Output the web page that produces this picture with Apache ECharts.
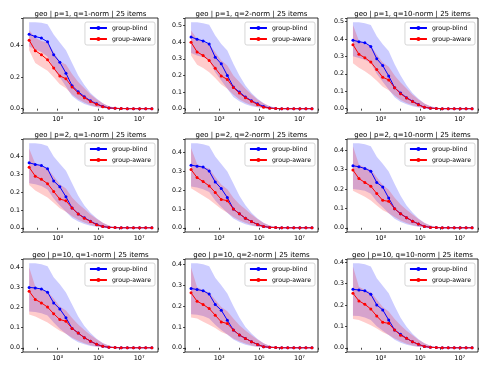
<!DOCTYPE html>
<html>
<head>
<meta charset="utf-8">
<script src="https://cdn.jsdelivr.net/npm/echarts@6/dist/echarts.min.js"></script>
<style>
html, body { margin: 0; padding: 0; background: #fff; }
#chart { width: 500px; height: 375px; }
</style>
</head>
<body>
<div id="chart"></div>
<script>
// x positions (doubling budget values)
const xs = [40, 80, 160, 320, 640, 1280, 2560, 5120, 10240, 20480, 40960, 81920, 163840, 327680, 655360, 1310720, 2621440, 5242880, 10485760, 20971520, 41943040];

// p=1, q=1-norm
const blindMean_p1q1 = [0.472,0.458,0.448,0.424,0.342,0.295,0.225,0.145,0.108,0.076,0.05,0.031,0.014,0.005,0.002,0.001,0,0,0,0,0];
const blindLo_p1q1   = [0.395,0.375,0.36,0.33,0.25,0.2,0.14,0.08,0.05,0.03,0.017,0.009,0.004,0.001,0,0,0,0,0,0,0];
const blindHi_p1q1   = [0.548,0.548,0.545,0.535,0.47,0.42,0.37,0.29,0.21,0.15,0.1,0.065,0.035,0.016,0.006,0.002,0.001,0,0,0,0];
const awareMean_p1q1 = [0.435,0.368,0.342,0.31,0.258,0.208,0.19,0.138,0.1,0.07,0.046,0.028,0.013,0.005,0.002,0.001,0,0,0,0,0];
const awareLo_p1q1   = [0.37,0.29,0.265,0.24,0.2,0.155,0.13,0.09,0.06,0.04,0.022,0.011,0.004,0.001,0,0,0,0,0,0,0];
const awareHi_p1q1   = [0.5,0.45,0.43,0.42,0.36,0.3,0.28,0.22,0.17,0.13,0.09,0.06,0.035,0.016,0.007,0.003,0.001,0,0,0,0];

// p=1, q=2-norm
const blindMean_p1q2 = [0.432,0.418,0.408,0.39,0.31,0.27,0.2,0.13,0.1,0.07,0.048,0.029,0.013,0.004,0.001,0,0,0,0,0,0];
const blindLo_p1q2   = [0.335,0.32,0.31,0.29,0.22,0.17,0.12,0.07,0.045,0.027,0.015,0.008,0.003,0.001,0,0,0,0,0,0,0];
const blindHi_p1q2   = [0.52,0.52,0.515,0.505,0.44,0.39,0.35,0.27,0.2,0.14,0.095,0.06,0.032,0.015,0.006,0.002,0.001,0,0,0,0];
const awareMean_p1q2 = [0.4,0.342,0.32,0.29,0.244,0.197,0.176,0.127,0.094,0.066,0.045,0.025,0.008,0.003,0.001,0,0,0,0,0,0];
const awareLo_p1q2   = [0.32,0.265,0.245,0.22,0.185,0.145,0.12,0.085,0.055,0.036,0.02,0.01,0.004,0.001,0,0,0,0,0,0,0];
const awareHi_p1q2   = [0.47,0.42,0.4,0.39,0.34,0.29,0.26,0.2,0.16,0.12,0.085,0.056,0.032,0.015,0.006,0.002,0.001,0,0,0,0];

// p=1, q=10-norm
const blindMean_p1q10 = [0.392,0.384,0.378,0.357,0.286,0.247,0.188,0.12,0.09,0.063,0.043,0.024,0.008,0.003,0.001,0,0,0,0,0,0];
const blindLo_p1q10   = [0.3,0.29,0.28,0.26,0.2,0.155,0.11,0.065,0.04,0.025,0.014,0.007,0.003,0.001,0,0,0,0,0,0,0];
const blindHi_p1q10   = [0.495,0.495,0.49,0.48,0.415,0.37,0.33,0.255,0.19,0.135,0.09,0.057,0.03,0.014,0.005,0.002,0.001,0,0,0,0];
const awareMean_p1q10 = [0.367,0.312,0.292,0.267,0.224,0.18,0.165,0.12,0.086,0.061,0.041,0.022,0.008,0.003,0.001,0,0,0,0,0,0];
const awareLo_p1q10   = [0.26,0.235,0.215,0.19,0.16,0.125,0.105,0.075,0.05,0.033,0.019,0.009,0.003,0.001,0,0,0,0,0,0,0];
const awareHi_p1q10   = [0.48,0.39,0.37,0.36,0.31,0.265,0.24,0.19,0.15,0.115,0.08,0.053,0.03,0.014,0.006,0.002,0.001,0,0,0,0];

// p=2, q=1-norm
const blindMean_p2q1 = [0.365,0.356,0.35,0.331,0.263,0.23,0.174,0.111,0.078,0.056,0.037,0.019,0.007,0.002,0.001,0,0,0,0,0,0];
const blindLo_p2q1   = [0.25,0.245,0.235,0.215,0.165,0.125,0.09,0.055,0.035,0.021,0.012,0.006,0.002,0.001,0,0,0,0,0,0,0];
const blindHi_p2q1   = [0.475,0.475,0.47,0.46,0.4,0.36,0.32,0.25,0.18,0.125,0.085,0.053,0.028,0.013,0.005,0.002,0.001,0,0,0,0];
const awareMean_p2q1 = [0.34,0.29,0.272,0.248,0.204,0.161,0.152,0.111,0.078,0.054,0.035,0.017,0.007,0.002,0.001,0,0,0,0,0,0];
const awareLo_p2q1   = [0.24,0.21,0.19,0.17,0.14,0.11,0.09,0.065,0.045,0.03,0.017,0.008,0.003,0.001,0,0,0,0,0,0,0];
const awareHi_p2q1   = [0.445,0.36,0.345,0.335,0.29,0.245,0.22,0.17,0.135,0.105,0.075,0.05,0.028,0.013,0.005,0.002,0.001,0,0,0,0];

// p=2, q=2-norm
const blindMean_p2q2 = [0.333,0.328,0.323,0.302,0.244,0.209,0.161,0.1,0.074,0.051,0.033,0.018,0.007,0.002,0.001,0,0,0,0,0,0];
const blindLo_p2q2   = [0.22,0.215,0.205,0.19,0.145,0.11,0.08,0.05,0.032,0.019,0.011,0.005,0.002,0.001,0,0,0,0,0,0,0];
const blindHi_p2q2   = [0.45,0.45,0.445,0.435,0.38,0.34,0.3,0.235,0.17,0.12,0.08,0.05,0.027,0.012,0.005,0.002,0.001,0,0,0,0];
const awareMean_p2q2 = [0.31,0.267,0.246,0.223,0.188,0.151,0.144,0.1,0.074,0.051,0.033,0.017,0.007,0.002,0.001,0,0,0,0,0,0];
const awareLo_p2q2   = [0.21,0.19,0.17,0.15,0.125,0.1,0.08,0.058,0.04,0.027,0.015,0.007,0.003,0.001,0,0,0,0,0,0,0];
const awareHi_p2q2   = [0.425,0.34,0.325,0.315,0.27,0.23,0.205,0.16,0.125,0.098,0.07,0.047,0.026,0.012,0.005,0.002,0.001,0,0,0,0];

// p=2, q=10-norm
const blindMean_p2q10 = [0.319,0.314,0.305,0.291,0.233,0.21,0.153,0.098,0.072,0.052,0.034,0.02,0.007,0.002,0.001,0,0,0,0,0,0];
const blindLo_p2q10   = [0.2,0.195,0.19,0.175,0.135,0.105,0.075,0.047,0.03,0.018,0.01,0.005,0.002,0.001,0,0,0,0,0,0,0];
const blindHi_p2q10   = [0.435,0.435,0.43,0.42,0.365,0.33,0.29,0.225,0.165,0.115,0.078,0.048,0.026,0.012,0.005,0.002,0.001,0,0,0,0];
const awareMean_p2q10 = [0.297,0.253,0.233,0.214,0.176,0.141,0.136,0.098,0.072,0.052,0.034,0.019,0.007,0.002,0.001,0,0,0,0,0,0];
const awareLo_p2q10   = [0.19,0.175,0.16,0.14,0.115,0.09,0.075,0.055,0.038,0.025,0.014,0.007,0.003,0.001,0,0,0,0,0,0,0];
const awareHi_p2q10   = [0.42,0.325,0.31,0.3,0.26,0.22,0.195,0.155,0.12,0.093,0.068,0.045,0.025,0.012,0.005,0.002,0.001,0,0,0,0];

// p=10, q=1-norm
const blindMean_p10q1 = [0.3,0.297,0.292,0.276,0.223,0.193,0.149,0.096,0.074,0.05,0.033,0.017,0.007,0.002,0.001,0,0,0,0,0,0];
const blindLo_p10q1   = [0.18,0.178,0.172,0.16,0.125,0.095,0.07,0.045,0.028,0.017,0.009,0.005,0.002,0.001,0,0,0,0,0,0,0];
const blindHi_p10q1   = [0.42,0.42,0.415,0.405,0.35,0.315,0.275,0.215,0.155,0.108,0.073,0.045,0.024,0.011,0.004,0.002,0.001,0,0,0,0];
const awareMean_p10q1 = [0.281,0.24,0.223,0.202,0.169,0.14,0.132,0.096,0.073,0.05,0.033,0.017,0.007,0.002,0.001,0,0,0,0,0,0];
const awareLo_p10q1   = [0.165,0.155,0.14,0.125,0.105,0.085,0.07,0.05,0.035,0.023,0.013,0.006,0.002,0.001,0,0,0,0,0,0,0];
const awareHi_p10q1   = [0.4,0.305,0.29,0.28,0.245,0.205,0.185,0.148,0.115,0.088,0.064,0.042,0.023,0.011,0.004,0.002,0.001,0,0,0,0];

// p=10, q=2-norm
const blindMean_p10q2 = [0.284,0.279,0.273,0.257,0.207,0.18,0.132,0.085,0.061,0.045,0.029,0.016,0.005,0.002,0.001,0,0,0,0,0,0];
const blindLo_p10q2   = [0.16,0.158,0.152,0.14,0.11,0.085,0.063,0.04,0.025,0.015,0.008,0.004,0.002,0.001,0,0,0,0,0,0,0];
const blindHi_p10q2   = [0.405,0.405,0.4,0.39,0.335,0.3,0.26,0.2,0.145,0.1,0.068,0.042,0.022,0.01,0.004,0.002,0.001,0,0,0,0];
const awareMean_p10q2 = [0.263,0.223,0.207,0.188,0.156,0.124,0.116,0.085,0.061,0.045,0.029,0.016,0.005,0.002,0.001,0,0,0,0,0,0];
const awareLo_p10q2   = [0.145,0.14,0.125,0.11,0.095,0.075,0.063,0.045,0.031,0.02,0.011,0.005,0.002,0.001,0,0,0,0,0,0,0];
const awareHi_p10q2   = [0.385,0.29,0.275,0.265,0.23,0.195,0.175,0.14,0.108,0.083,0.06,0.04,0.022,0.01,0.004,0.002,0.001,0,0,0,0];

// p=10, q=10-norm
const blindMean_p10q10 = [0.273,0.27,0.266,0.25,0.2,0.177,0.13,0.083,0.063,0.044,0.028,0.016,0.006,0.002,0.001,0,0,0,0,0,0];
const blindLo_p10q10   = [0.15,0.148,0.142,0.13,0.1,0.08,0.06,0.038,0.024,0.014,0.008,0.004,0.002,0.001,0,0,0,0,0,0,0];
const blindHi_p10q10   = [0.395,0.395,0.39,0.38,0.325,0.29,0.255,0.195,0.14,0.098,0.066,0.04,0.021,0.01,0.004,0.002,0.001,0,0,0,0];
const awareMean_p10q10 = [0.255,0.219,0.203,0.181,0.148,0.119,0.114,0.083,0.059,0.044,0.028,0.016,0.006,0.002,0.001,0,0,0,0,0,0];
const awareLo_p10q10   = [0.135,0.13,0.118,0.105,0.09,0.072,0.06,0.043,0.03,0.019,0.011,0.005,0.002,0.001,0,0,0,0,0,0,0];
const awareHi_p10q10   = [0.38,0.285,0.27,0.26,0.225,0.19,0.17,0.135,0.105,0.08,0.058,0.038,0.021,0.01,0.004,0.002,0.001,0,0,0,0];

const seriesNames = ['group-blind', 'group-aware'];

const panels = [
  { title: 'geo | p=1, q=1-norm | 25 items',   split: 3, blind: [blindMean_p1q1, blindLo_p1q1, blindHi_p1q1],       aware: [awareMean_p1q1, awareLo_p1q1, awareHi_p1q1] },
  { title: 'geo | p=1, q=2-norm | 25 items',   split: 5, blind: [blindMean_p1q2, blindLo_p1q2, blindHi_p1q2],       aware: [awareMean_p1q2, awareLo_p1q2, awareHi_p1q2] },
  { title: 'geo | p=1, q=10-norm | 25 items',  split: 5, blind: [blindMean_p1q10, blindLo_p1q10, blindHi_p1q10],    aware: [awareMean_p1q10, awareLo_p1q10, awareHi_p1q10] },
  { title: 'geo | p=2, q=1-norm | 25 items',   split: 5, blind: [blindMean_p2q1, blindLo_p2q1, blindHi_p2q1],       aware: [awareMean_p2q1, awareLo_p2q1, awareHi_p2q1] },
  { title: 'geo | p=2, q=2-norm | 25 items',   split: 5, blind: [blindMean_p2q2, blindLo_p2q2, blindHi_p2q2],       aware: [awareMean_p2q2, awareLo_p2q2, awareHi_p2q2] },
  { title: 'geo | p=2, q=10-norm | 25 items',  split: 5, blind: [blindMean_p2q10, blindLo_p2q10, blindHi_p2q10],    aware: [awareMean_p2q10, awareLo_p2q10, awareHi_p2q10] },
  { title: 'geo | p=10, q=1-norm | 25 items',  split: 5, blind: [blindMean_p10q1, blindLo_p10q1, blindHi_p10q1],    aware: [awareMean_p10q1, awareLo_p10q1, awareHi_p10q1] },
  { title: 'geo | p=10, q=2-norm | 25 items',  split: 5, blind: [blindMean_p10q2, blindLo_p10q2, blindHi_p10q2],    aware: [awareMean_p10q2, awareLo_p10q2, awareHi_p10q2] },
  { title: 'geo | p=10, q=10-norm | 25 items', split: 5, blind: [blindMean_p10q10, blindLo_p10q10, blindHi_p10q10], aware: [awareMean_p10q10, awareLo_p10q10, awareHi_p10q10] }
];

// layout of the 3x3 grid
const colLeft = [23, 185, 347];
const colWidth = [135, 133, 131];
const rowTop = [18, 139, 259];
const rowHeight = [95, 93, 93];

const FONT = 'DejaVu Sans';
const colors = { blind: '#0000ff', aware: '#ff0000' };
const bandColors = { blind: 'rgba(0,0,255,0.2)', aware: 'rgba(255,0,0,0.2)' };
const SUP = { 1: '\u00b9', 3: '\u00b3', 5: '\u2075', 7: '\u2077', 9: '\u2079' };

const pairs = arr => xs.map((x, k) => [x, arr[k]]);
// y first so that the stack runs on the y dimension (x is a value axis too)
const pairsYX = arr => xs.map((x, k) => [arr[k], x]);

const grid = [], xAxis = [], yAxis = [], series = [], legend = [], graphic = [];

panels.forEach((p, i) => {
  const row = Math.floor(i / 3), col = i % 3;
  const left = colLeft[col], width = colWidth[col];
  const top = rowTop[row], height = rowHeight[row];

  grid.push({ left, top, width, height, show: true, borderColor: '#000', borderWidth: 0.8, backgroundColor: 'transparent' });

  // half a doubling of margin on each side, like matplotlib's auto limits
  xAxis.push({
    type: 'log', logBase: 10, gridIndex: i, min: xs[0] / 2, max: xs[xs.length - 1] * 2,
    axisLine: { show: false },
    axisTick: { show: true, length: 2, lineStyle: { color: '#000', width: 0.7 } },
    splitLine: { show: false },
    axisLabel: {
      color: '#000', fontSize: 6.5, fontFamily: FONT, margin: 3,
      formatter: v => {
        const l = Math.log10(v), e = Math.round(l);
        if (Math.abs(l - e) > 1e-6 || e % 2 === 0) return '';
        return '10' + (SUP[e] || '');
      }
    }
  });

  yAxis.push({
    type: 'value', gridIndex: i,
    min: v => -v.max * 0.05,
    max: v => v.max * 1.05,
    splitNumber: p.split,
    axisLine: { show: false },
    axisTick: { show: true, length: 2, lineStyle: { color: '#000', width: 0.7 } },
    splitLine: { show: false },
    axisLabel: {
      color: '#000', fontSize: 6.3, fontFamily: FONT, margin: 3,
      formatter: v => Math.abs(v * 10 - Math.round(v * 10)) < 1e-6 ? v.toFixed(1) : ''
    }
  });

  // shaded bands: lower edge + (upper - lower) stacked on top
  ['blind', 'aware'].forEach(key => {
    const [, lo, hi] = p[key];
    series.push({
      type: 'line', name: key + '-lo-' + i, xAxisIndex: i, yAxisIndex: i,
      stack: key + i, data: pairsYX(lo), encode: { x: 1, y: 0 },
      symbol: 'none', silent: true, lineStyle: { opacity: 0 }, z: 1
    });
    series.push({
      type: 'line', name: key + '-band-' + i, xAxisIndex: i, yAxisIndex: i,
      stack: key + i, data: pairsYX(hi.map((h, k) => h - lo[k])), encode: { x: 1, y: 0 },
      symbol: 'none', silent: true, lineStyle: { opacity: 0 },
      areaStyle: { color: bandColors[key], opacity: 1 }, z: 1
    });
  });

  // mean lines
  ['blind', 'aware'].forEach((key, j) => {
    series.push({
      type: 'line', name: seriesNames[j], xAxisIndex: i, yAxisIndex: i,
      data: pairs(p[key][0]), symbol: 'circle', symbolSize: 3,
      itemStyle: { color: colors[key] },
      lineStyle: { color: colors[key], width: 1 }, z: 3
    });
  });

  legend.push({
    data: seriesNames, orient: 'vertical', selectedMode: false,
    right: 500 - (left + width) + 3, top: top + 4,
    itemWidth: 17, itemHeight: 5, itemGap: 5,
    padding: [3, 4, 3, 4],
    borderColor: '#cccccc', borderWidth: 0.8, borderRadius: 2,
    backgroundColor: 'rgba(255,255,255,0.8)',
    textStyle: { fontSize: 6.2, color: '#000', fontFamily: FONT }
  });

  graphic.push({
    type: 'text', x: left + width / 2, y: top - 7.5,
    style: { text: p.title, fontSize: 7, fontFamily: FONT, fill: '#000', textAlign: 'center', textVerticalAlign: 'top' }
  });
});

const chart = echarts.init(document.getElementById('chart'), null, { renderer: 'canvas' });
chart.setOption({
  animation: false,
  backgroundColor: '#fff',
  grid, xAxis, yAxis, series, legend, graphic
});
</script>
</body>
</html>
